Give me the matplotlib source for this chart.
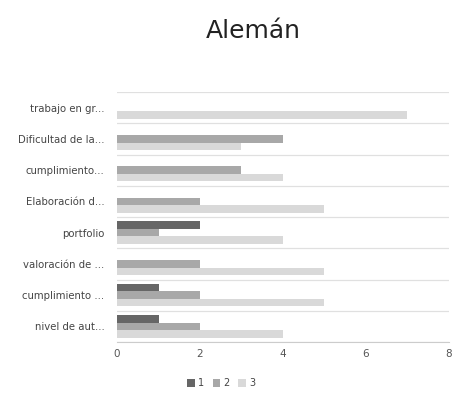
import matplotlib.pyplot as plt
import numpy as np

categories = ['trabajo en gr...', 'Dificultad de la...', 'cumplimiento...', 'Elaboración d...',
              'portfolio', 'valoración de ...', 'cumplimiento ...', 'nivel de aut...']
serie1 = [0, 0, 0, 0, 2, 0, 1, 1]
serie2 = [0, 4, 3, 2, 1, 2, 2, 2]
serie3 = [7, 3, 4, 5, 4, 5, 5, 4]
seriesNames = ['1', '2', '3']
colors = ['#666666', '#a8a8a8', '#d9d9d9']

fig = plt.figure(figsize=(4.56, 3.93), dpi=100)
ax = fig.add_axes([0.2566, 0.1298, 0.728, 0.636])

y = np.arange(len(categories))
h = 0.24
for i, (vals, c, name) in enumerate(zip([serie1, serie2, serie3], colors, seriesNames)):
    ax.barh(y + (i - 1) * h, vals, height=h, color=c, label=name, zorder=3)

ax.set_ylim(len(categories) - 0.5, -0.5)
ax.set_xlim(0, 8)
ax.set_xticks([0, 2, 4, 6, 8])
ax.set_yticks(y)
ax.set_yticklabels(categories)
ax.set_yticks(np.arange(-0.5, len(categories)), minor=True)
ax.grid(True, axis='y', which='minor', color='#e0e0e0', linewidth=0.9, zorder=0)
ax.tick_params(axis='y', which='both', length=0, labelsize=7.3, labelcolor='#444444', pad=9)
ax.tick_params(axis='x', length=0, labelsize=7.5, labelcolor='#555555', pad=5)
for s in ['top', 'right', 'left']:
    ax.spines[s].set_visible(False)
ax.spines['bottom'].set_color('#cccccc')

fig.text(0.555, 0.922, 'Alemán', ha='center', va='center', fontsize=18, color='#222222')
fig.legend(loc='center', bbox_to_anchor=(0.485, 0.025), ncol=3, frameon=False,
           fontsize=7, handlelength=0.8, handleheight=0.8, columnspacing=0.9, handletextpad=0.3,
           labelcolor='#444444')

plt.savefig('out.png', dpi=100)
